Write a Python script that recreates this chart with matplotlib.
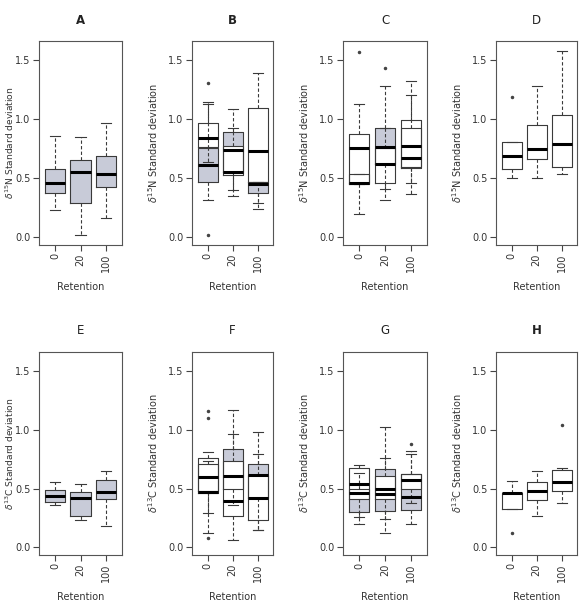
import numpy as np
import matplotlib.pyplot as plt

# Retention groups on the x axis
retention = ['0', '20', '100']
positions = [1, 2, 3]

n15_label = r'$\delta^{15}$N Standard deviation'
c13_label = r'$\delta^{13}$C Standard deviation'

# each row: (q1, median, q3, lower whisker, upper whisker, outliers), None = nothing drawn
A_shaded = [(0.38, 0.46, 0.58, 0.23, 0.86, []), (0.29, 0.55, 0.66, 0.02, 0.85, []),
            (0.43, 0.54, 0.69, 0.16, 0.97, [])]

B_shaded = [(0.47, 0.61, 0.76, 0.32, 1.13, [0.02]), (0.55, 0.737, 0.89, 0.35, 1.09, []),
            (0.38, 0.45, 0.47, 0.24, 0.47, [])]
B_white = [(0.77, 0.845, 0.97, 0.64, 1.15, [1.31]), (0.53, 0.555, 0.775, 0.40, 0.93, []),
           (0.47, 0.73, 1.10, 0.29, 1.39, [])]

C_shaded = [None, (0.62, 0.77, 0.93, 0.41, 1.28, [1.44]), None]
C_white1 = [(0.45, 0.755, 0.88, 0.20, 1.13, [1.57]), (0.46, 0.625, 0.76, 0.32, 0.93, []),
            (0.59, 0.775, 0.995, 0.365, 1.33, [])]
C_white2 = [(0.46, 0.465, 0.54, 0.45, 0.54, []), None, (0.60, 0.675, 0.93, 0.46, 1.21, [])]

D_white = [(0.58, 0.69, 0.81, 0.50, 0.81, [1.19]), (0.665, 0.745, 0.95, 0.50, 1.28, []),
           (0.595, 0.79, 1.04, 0.54, 1.58, [])]

E_shaded = [(0.39, 0.435, 0.485, 0.36, 0.56, []), (0.27, 0.42, 0.47, 0.23, 0.54, []),
            (0.415, 0.47, 0.57, 0.18, 0.65, [])]

F_shaded = [None, (0.50, 0.61, 0.84, 0.36, 0.97, []), (0.42, 0.615, 0.71, 0.15, 0.80, [])]
F_white1 = [(0.46, 0.47, 0.76, 0.29, 0.81, [1.16, 1.10]), (0.265, 0.395, 0.74, 0.06, 1.17, []),
            (0.235, 0.42, 0.62, 0.15, 0.98, [])]
F_white2 = [(0.48, 0.60, 0.71, 0.12, 0.74, [0.08]), None, None]

G_shaded = [(0.30, 0.46, 0.50, 0.20, 0.63, []), (0.31, 0.457, 0.665, 0.12, 1.03, []),
            (0.315, 0.43, 0.628, 0.20, 0.82, [0.88])]
G_white = [(0.415, 0.537, 0.676, 0.26, 0.70, []), (0.41, 0.50, 0.605, 0.245, 0.765, []),
           (0.50, 0.571, 0.628, 0.38, 0.80, [])]

H_white = [(0.325, 0.46, 0.465, 0.325, 0.565, [0.12]), (0.405, 0.477, 0.557, 0.27, 0.655, []),
           (0.477, 0.557, 0.662, 0.38, 0.68, [1.04])]

SHADE = '#c8cbd8'
WHITE = 'white'
EDGE = '#3a3a3a'

panels = [
    ('A', n15_label, [(SHADE, A_shaded)], 'bold'),
    ('B', n15_label, [(SHADE, B_shaded), (WHITE, B_white)], 'bold'),
    ('C', n15_label, [(SHADE, C_shaded), (WHITE, C_white1), (WHITE, C_white2)], 'normal'),
    ('D', n15_label, [(WHITE, D_white)], 'normal'),
    ('E', c13_label, [(SHADE, E_shaded)], 'normal'),
    ('F', c13_label, [(SHADE, F_shaded), (WHITE, F_white1), (WHITE, F_white2)], 'normal'),
    ('G', c13_label, [(SHADE, G_shaded), (WHITE, G_white)], 'normal'),
    ('H', c13_label, [(WHITE, H_white)], 'bold'),
]


def to_stats(rows):
    st, pos = [], []
    for p, r in zip(positions, rows):
        if r is None:
            continue
        st.append(dict(q1=r[0], med=r[1], q3=r[2], whislo=r[3], whishi=r[4], fliers=r[5]))
        pos.append(p)
    return st, pos


def draw_panel(ax, series):
    # fills first so every outline stays visible on top
    for color, rows in series:
        st, pos = to_stats(rows)
        ax.bxp(st, positions=pos, widths=0.8, patch_artist=True, showcaps=False,
               showfliers=False, manage_ticks=False,
               boxprops=dict(facecolor=color, edgecolor='none', zorder=1),
               whiskerprops=dict(linestyle='none'), medianprops=dict(linestyle='none'))
    for color, rows in series:
        st, pos = to_stats(rows)
        ax.bxp(st, positions=pos, widths=0.8, capwidths=0.4, manage_ticks=False,
               boxprops=dict(color=EDGE, lw=0.8, zorder=3),
               whiskerprops=dict(color=EDGE, lw=0.8, ls=(0, (3, 2)), zorder=3),
               capprops=dict(color=EDGE, lw=0.8, zorder=3),
               medianprops=dict(color='black', lw=2.2, solid_capstyle='butt', zorder=4),
               flierprops=dict(marker='.', ms=3, mfc='#444', mec='#444', zorder=4))


fig = plt.figure(figsize=(5.8, 6.03), dpi=100)
W, H = 580, 603
lefts = [39, 192, 343, 496]
rights = [122, 273, 427, 577]
rows_px = [(41, 245), (352, 555)]

for i, (title, ylab, series, weight) in enumerate(panels):
    r, c = divmod(i, 4)
    top, bot = rows_px[r]
    wpx = rights[c] - lefts[c]
    hpx = bot - top
    ax = fig.add_axes([lefts[c] / W, 1 - bot / H, wpx / W, hpx / H])
    draw_panel(ax, series)
    ax.set_xlim(0.38, 3.62)
    ax.set_ylim(-0.065, 1.665)
    ax.set_xticks(positions)
    ax.set_xticklabels(retention, rotation=90)
    ax.set_yticks([0.0, 0.5, 1.0, 1.5])
    ax.set_yticklabels(['0.0', '0.5', '1.0', '1.5'])
    ax.tick_params(direction='out', length=4, width=0.8, colors='#444',
                   labelsize=7, labelcolor='#333', pad=2)
    for s in ax.spines.values():
        s.set_color('#555')
        s.set_linewidth(0.8)
    # first column sits against the page edge, keep its label inside
    ax.set_ylabel(ylab, fontsize=6.6 if c == 0 else 7, color='#333')
    off = 23 if c == 0 else 32
    ax.yaxis.set_label_coords(-off / wpx, 0.5)
    ax.set_xlabel('Retention', fontsize=7, color='#333')
    ax.xaxis.set_label_coords(0.5, -37 / hpx)
    ax.text(0.5, 1 + 21 / hpx, title, transform=ax.transAxes, ha='center',
            va='center', fontsize=8.5, fontweight=weight, color='#222')

fig.savefig('out.png', dpi=100)
